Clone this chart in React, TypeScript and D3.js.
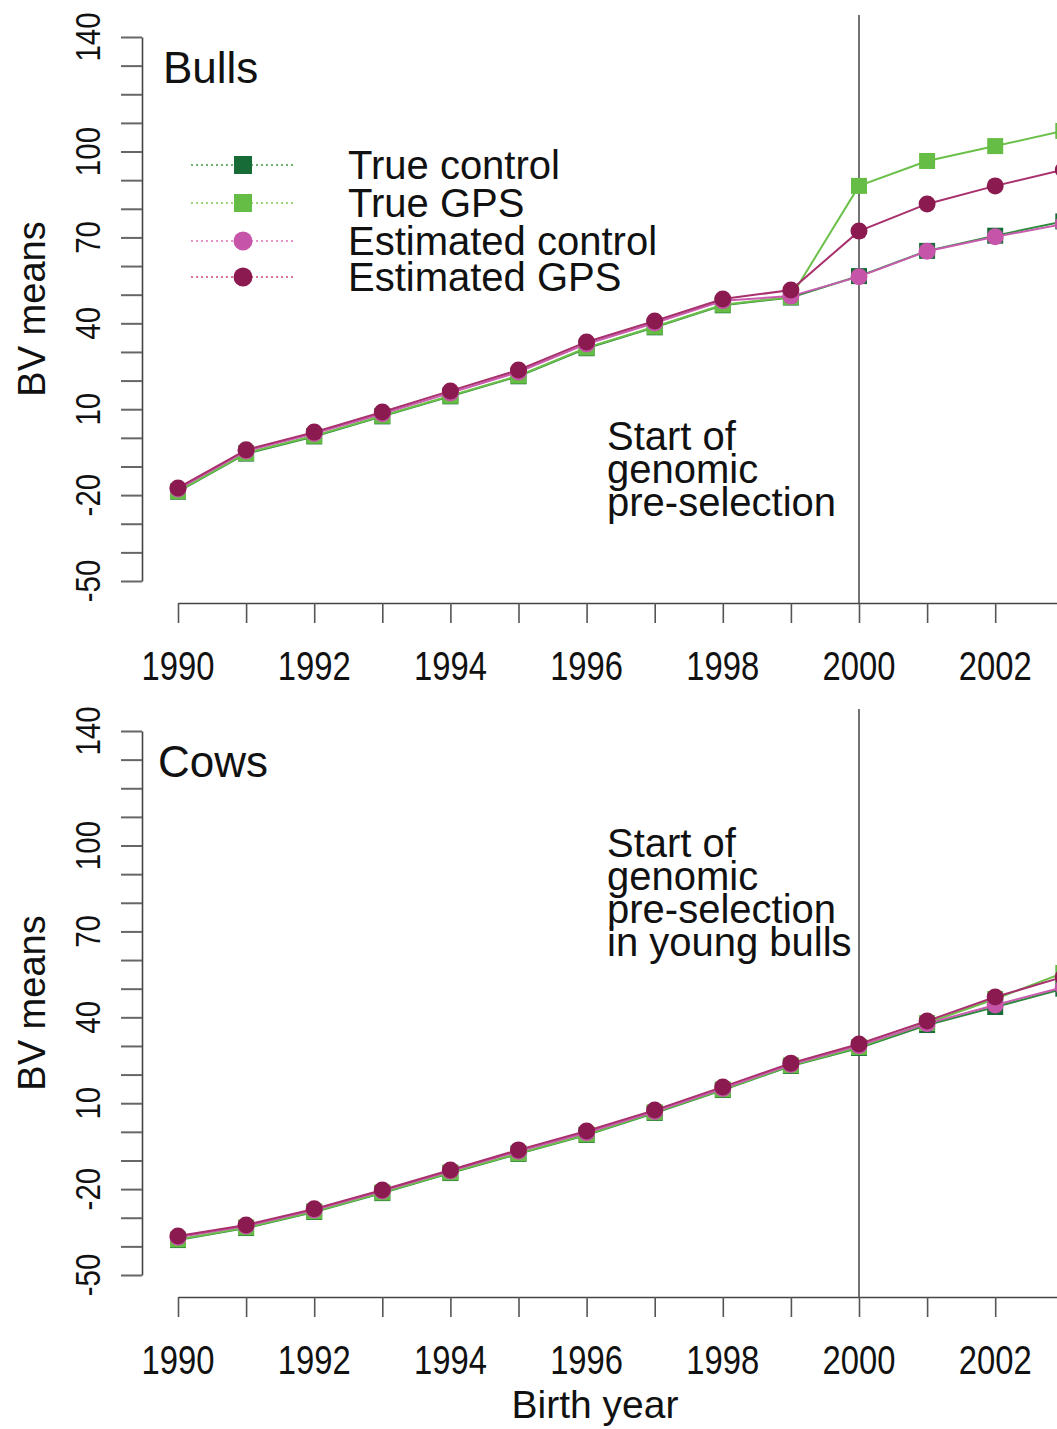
import { useRef, useEffect } from 'react';
import * as d3 from 'd3';

// birth years shown on the x axis
const years = [1990, 1991, 1992, 1993, 1994, 1995, 1996, 1997, 1998, 1999, 2000, 2001, 2002, 2003];

// Bulls, BV means
const bullsTrueControl = [-18.8, -5.5, 0.5, 7.5, 14.5, 21.5, 31.3, 38.6, 46.3, 49.0, 56.5, 65.3, 70.6, 75.6];
const bullsTrueGPS = [-18.6, -5.3, 0.7, 7.7, 14.7, 21.7, 31.5, 38.8, 46.5, 49.2, 88.0, 96.7, 101.9, 107.2];
const bullsEstControl = [-17.9, -4.6, 1.5, 8.4, 15.7, 23.0, 32.8, 40.1, 47.9, 49.5, 56.3, 65.2, 70.2, 74.7];
const bullsEstGPS = [-17.5, -4.2, 2.0, 9.0, 16.4, 23.7, 33.5, 40.8, 48.5, 51.6, 72.2, 81.7, 88.0, 93.6];

// Cows, BV means
const cowsTrueControl = [-37.8, -33.6, -28.0, -21.4, -14.4, -7.7, -1.1, 6.6, 14.6, 23.0, 29.3, 37.3, 43.6, 50.0];
const cowsTrueGPS = [-37.6, -33.4, -27.8, -21.2, -14.2, -7.5, -0.9, 6.8, 14.8, 23.2, 29.6, 38.0, 46.4, 55.5];
const cowsEstControl = [-36.8, -32.9, -27.3, -20.7, -13.7, -6.8, -0.3, 7.1, 15.1, 23.5, 30.1, 37.8, 44.3, 50.5];
const cowsEstGPS = [-36.4, -32.5, -26.9, -20.3, -13.3, -6.3, 0.3, 7.6, 15.7, 24.0, 30.7, 38.7, 47.1, 54.1];

const seriesNames = ['True control', 'True GPS', 'Estimated control', 'Estimated GPS'];
const markerColors = ['#176b36', '#66bd45', '#c654a8', '#8b1a50'];
const lineColors = ['#2e8b3e', '#6cc04a', '#c95cae', '#a8306c'];
const legendLineColors = ['#3d9a3d', '#7cc94f', '#e070b8', '#d0457c'];
const markerShapes = ['square', 'square', 'circle', 'circle'];

const yMinorTicks = [-50, -40, -30, -20, -10, 0, 10, 20, 30, 40, 50, 60, 70, 80, 90, 100, 110, 120, 130, 140];
const yTickLabels = [-50, -20, 10, 40, 70, 100, 140];
const xTickLabels = [1990, 1992, 1994, 1996, 1998, 2000, 2002];

const W = 1057;
const H = 1429;
const FONT = '"Liberation Sans", Arial, Helvetica, sans-serif';

export default function App() {
  const ref = useRef<SVGSVGElement>(null);

  useEffect(() => {
    const svg = d3.select(ref.current);
    svg.selectAll('*').remove();

    const x = d3.scaleLinear().domain([1990, 2003]).range([178, 178 + 13 * 68.1]);

    const drawPanel = (top: number, title: string, titleX: number, series: number[][], note: string[], legend: boolean) => {
      const y = d3.scaleLinear().domain([-50, 140]).range([top + 544, top]);
      const g = svg.append('g').style('font-family', FONT);
      const axisY = top + 566;

      // vertical marker at 2000
      g.append('line')
        .attr('x1', x(2000)).attr('x2', x(2000))
        .attr('y1', top - 22).attr('y2', axisY)
        .attr('stroke', '#444').attr('stroke-width', 1.5);

      // y axis
      const ya = g.append('g')
        .attr('transform', 'translate(142,0)')
        .call(d3.axisLeft(y).tickValues(yMinorTicks).tickSize(21).tickSizeOuter(0).tickFormat(() => ''));
      ya.select('.domain').attr('stroke', '#444').attr('stroke-width', 1.6);
      ya.selectAll('.tick line').attr('stroke', '#666').attr('stroke-width', 2);

      yTickLabels.forEach(v => {
        g.append('text')
          .attr('transform', `translate(100,${y(v)}) rotate(-90) scale(0.82,1)`)
          .attr('text-anchor', 'middle')
          .attr('font-size', 36)
          .attr('fill', '#111')
          .text(v);
      });

      g.append('text')
        .attr('transform', `translate(45,${top + 272}) rotate(-90)`)
        .attr('text-anchor', 'middle')
        .attr('font-size', 38)
        .attr('fill', '#111')
        .text('BV means');

      // x axis
      const xa = g.append('g')
        .attr('transform', `translate(0,${axisY})`)
        .call(d3.axisBottom(x).tickValues(years).tickSize(20).tickSizeOuter(0).tickFormat(() => ''));
      xa.select('.domain').attr('stroke', '#444').attr('stroke-width', 1.6);
      xa.selectAll('.tick line').attr('stroke', '#555').attr('stroke-width', 1.6);

      xTickLabels.forEach(v => {
        g.append('text')
          .attr('transform', `translate(${x(v)},${top + 643}) scale(0.82,1)`)
          .attr('text-anchor', 'middle')
          .attr('font-size', 40)
          .attr('fill', '#111')
          .text(v);
      });

      // panel title
      g.append('text')
        .attr('x', titleX).attr('y', top + 46)
        .attr('font-size', 44)
        .attr('fill', '#111')
        .text(title);

      // annotation
      const noteTop = legend ? top + 413 : top + 126;
      note.forEach((t, i) => {
        g.append('text')
          .attr('x', 607).attr('y', noteTop + i * 33)
          .attr('font-size', 40)
          .attr('fill', '#111')
          .text(t);
      });

      // series
      const line = d3.line<number>().x((_, i) => x(years[i])).y(d => y(d));
      series.forEach((vals, s) => {
        g.append('path')
          .attr('d', line(vals))
          .attr('fill', 'none')
          .attr('stroke', lineColors[s])
          .attr('stroke-width', 2);
        vals.forEach((v, i) => {
          if (markerShapes[s] === 'square') {
            g.append('rect')
              .attr('x', x(years[i]) - 8).attr('y', y(v) - 8)
              .attr('width', 16).attr('height', 16)
              .attr('fill', markerColors[s]);
          } else {
            g.append('circle')
              .attr('cx', x(years[i])).attr('cy', y(v))
              .attr('r', 8.5)
              .attr('fill', markerColors[s]);
          }
        });
      });

      if (legend) {
        const legendY = [128, 166, 204, 240];
        seriesNames.forEach((name, s) => {
          const ly = top + legendY[s];
          g.append('line')
            .attr('x1', 191).attr('x2', 296)
            .attr('y1', ly).attr('y2', ly)
            .attr('stroke', legendLineColors[s])
            .attr('stroke-width', 1.5)
            .attr('stroke-dasharray', '2,3');
          if (markerShapes[s] === 'square') {
            g.append('rect')
              .attr('x', 243 - 9).attr('y', ly - 9)
              .attr('width', 18).attr('height', 18)
              .attr('fill', markerColors[s]);
          } else {
            g.append('circle')
              .attr('cx', 243).attr('cy', ly)
              .attr('r', 9.5)
              .attr('fill', markerColors[s]);
          }
          g.append('text')
            .attr('x', 348).attr('y', ly)
            .attr('dominant-baseline', 'central')
            .attr('font-size', 40)
            .attr('fill', '#111')
            .text(name);
        });
      }
    };

    drawPanel(37, 'Bulls', 163,
      [bullsTrueControl, bullsTrueGPS, bullsEstControl, bullsEstGPS],
      ['Start of', 'genomic', 'pre-selection'], true);
    drawPanel(731, 'Cows', 158,
      [cowsTrueControl, cowsTrueGPS, cowsEstControl, cowsEstGPS],
      ['Start of', 'genomic', 'pre-selection', 'in young bulls'], false);

    svg.append('text')
      .attr('x', 595).attr('y', 1418)
      .attr('text-anchor', 'middle')
      .attr('font-size', 39)
      .attr('font-family', FONT)
      .attr('fill', '#111')
      .text('Birth year');
  }, []);

  return (
    <svg
      ref={ref}
      width={W}
      height={H}
      style={{ position: 'absolute', left: 0, top: 0, background: '#fff', display: 'block' }}
    ></svg>
  );
}
